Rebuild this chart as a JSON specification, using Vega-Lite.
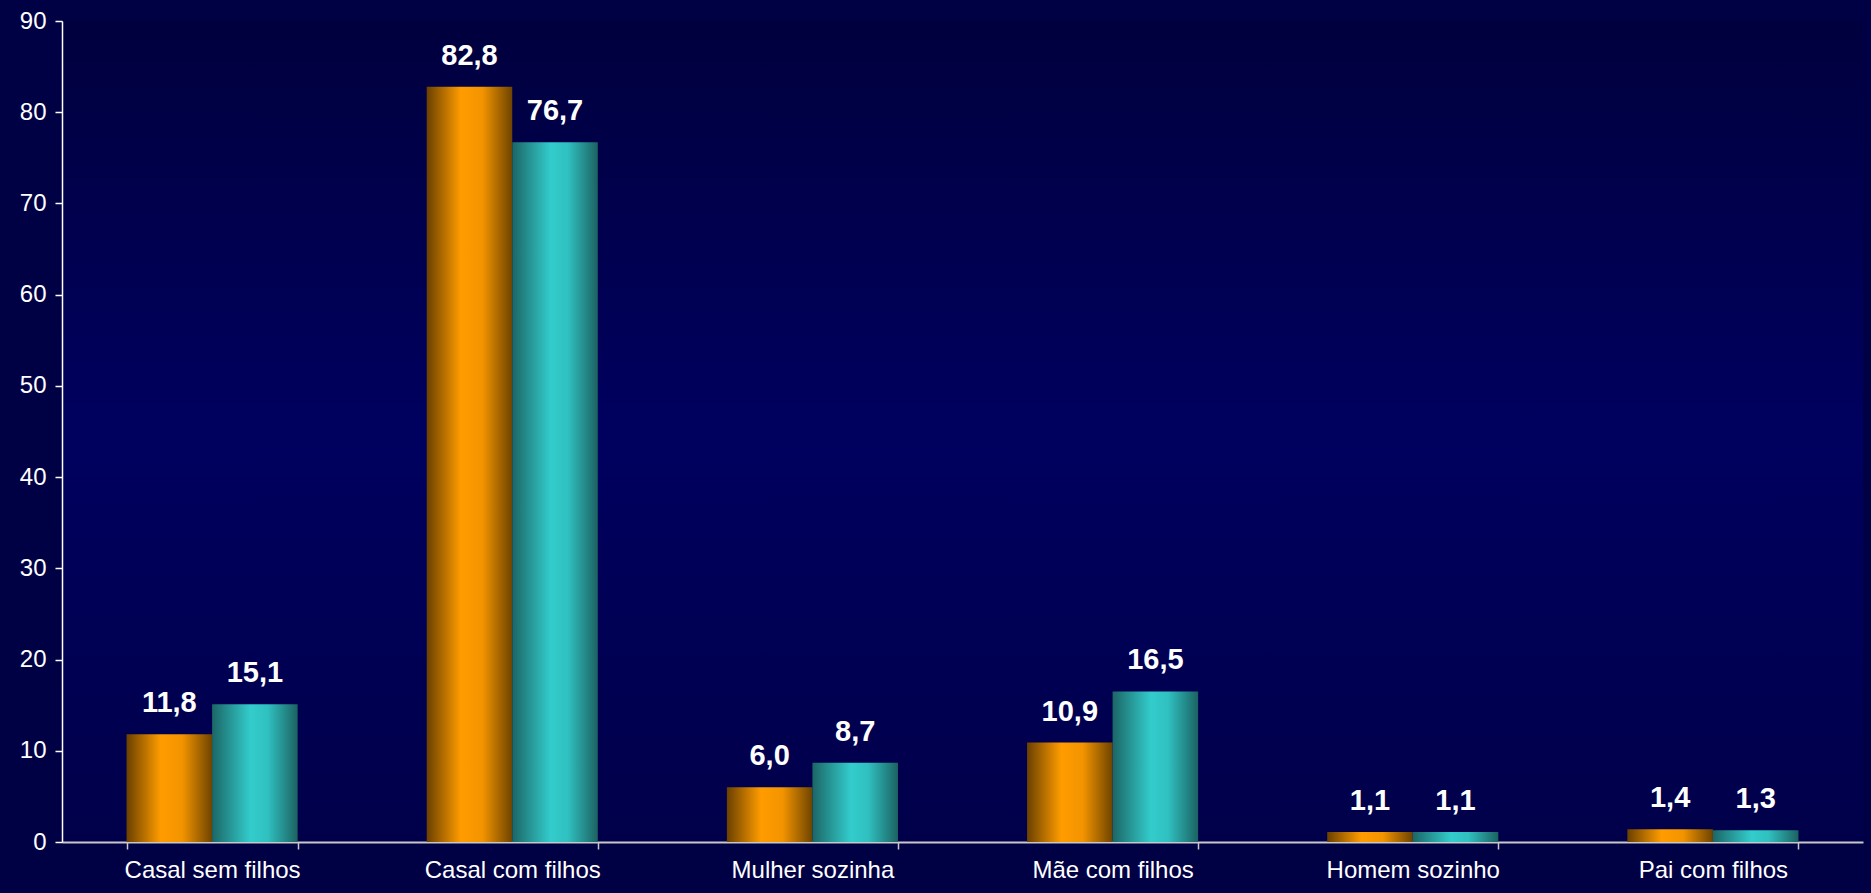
{
  "$schema": "https://vega.github.io/schema/vega-lite/v6.json",
  "width": 1801,
  "height": 821,
  "autosize": {"type": "none"},
  "padding": {"left": 62, "top": 21, "right": 8, "bottom": 51},
  "background": "#000044",
  "config": {
    "locale": {"number": {"decimal": ",", "thousands": ".", "grouping": [3], "currency": ["", ""]}},
    "view": {"stroke": null, "fill": {"gradient": "linear", "x1": 0, "y1": 0, "x2": 0, "y2": 1, "stops": [{"offset": 0, "color": "#00003e"}, {"offset": 0.5, "color": "#00005f"}, {"offset": 1, "color": "#00004a"}]}},
    "font": "Liberation Sans"
  },
  "data": {
    "values": [
      {"categoria": "Casal sem filhos", "serie": "Série 1", "valor": 11.8},
      {"categoria": "Casal sem filhos", "serie": "Série 2", "valor": 15.1},
      {"categoria": "Casal com filhos", "serie": "Série 1", "valor": 82.8},
      {"categoria": "Casal com filhos", "serie": "Série 2", "valor": 76.7},
      {"categoria": "Mulher sozinha", "serie": "Série 1", "valor": 6.0},
      {"categoria": "Mulher sozinha", "serie": "Série 2", "valor": 8.7},
      {"categoria": "Mãe com filhos", "serie": "Série 1", "valor": 10.9},
      {"categoria": "Mãe com filhos", "serie": "Série 2", "valor": 16.5},
      {"categoria": "Homem sozinho", "serie": "Série 1", "valor": 1.1},
      {"categoria": "Homem sozinho", "serie": "Série 2", "valor": 1.1},
      {"categoria": "Pai com filhos", "serie": "Série 1", "valor": 1.4},
      {"categoria": "Pai com filhos", "serie": "Série 2", "valor": 1.3}
    ]
  },
  "encoding": {
    "x": {
      "field": "categoria", "type": "nominal", "sort": null, "title": null,
      "scale": {"paddingInner": 0.43, "paddingOuter": 0.215},
      "axis": {"labelAngle": 0, "labelColor": "#ffffff", "labelFontSize": 24, "labelPadding": 9, "tickBand": "extent", "domainColor": "#c8c8c8", "tickColor": "#c8c8c8", "tickSize": 7, "domainWidth": 2, "tickWidth": 1.5}
    },
    "xOffset": {"field": "serie", "type": "nominal", "scale": {"paddingInner": 0, "paddingOuter": 0}},
    "y": {
      "field": "valor", "type": "quantitative", "title": null,
      "scale": {"domain": [0, 90], "nice": false},
      "axis": {"values": [0, 10, 20, 30, 40, 50, 60, 70, 80, 90], "grid": false, "labelColor": "#ffffff", "labelFontSize": 24, "labelPadding": 9, "domainColor": "#ffffff", "tickColor": "#ffffff", "tickSize": 7, "domainWidth": 1.5, "tickWidth": 1.5}
    }
  },
  "layer": [
    {
      "transform": [{"filter": "datum.serie === 'Série 1'"}],
      "mark": {"type": "bar", "color": {"gradient": "linear", "x1": 0, "y1": 0, "x2": 1, "y2": 0, "stops": [{"offset": 0, "color": "#6a4000"}, {"offset": 0.4, "color": "#ff9c00"}, {"offset": 0.65, "color": "#f39400"}, {"offset": 1, "color": "#6e4400"}]}}
    },
    {
      "transform": [{"filter": "datum.serie === 'Série 2'"}],
      "mark": {"type": "bar", "color": {"gradient": "linear", "x1": 0, "y1": 0, "x2": 1, "y2": 0, "stops": [{"offset": 0, "color": "#1c6666"}, {"offset": 0.45, "color": "#33cccc"}, {"offset": 0.65, "color": "#30c0c0"}, {"offset": 1, "color": "#1c6262"}]}}
    },
    {
      "mark": {"type": "text", "color": "#ffffff", "fontWeight": "bold", "fontSize": 29, "baseline": "alphabetic", "dy": -22},
      "encoding": {"text": {"field": "valor", "type": "quantitative", "format": ".1f"}}
    }
  ]
}
